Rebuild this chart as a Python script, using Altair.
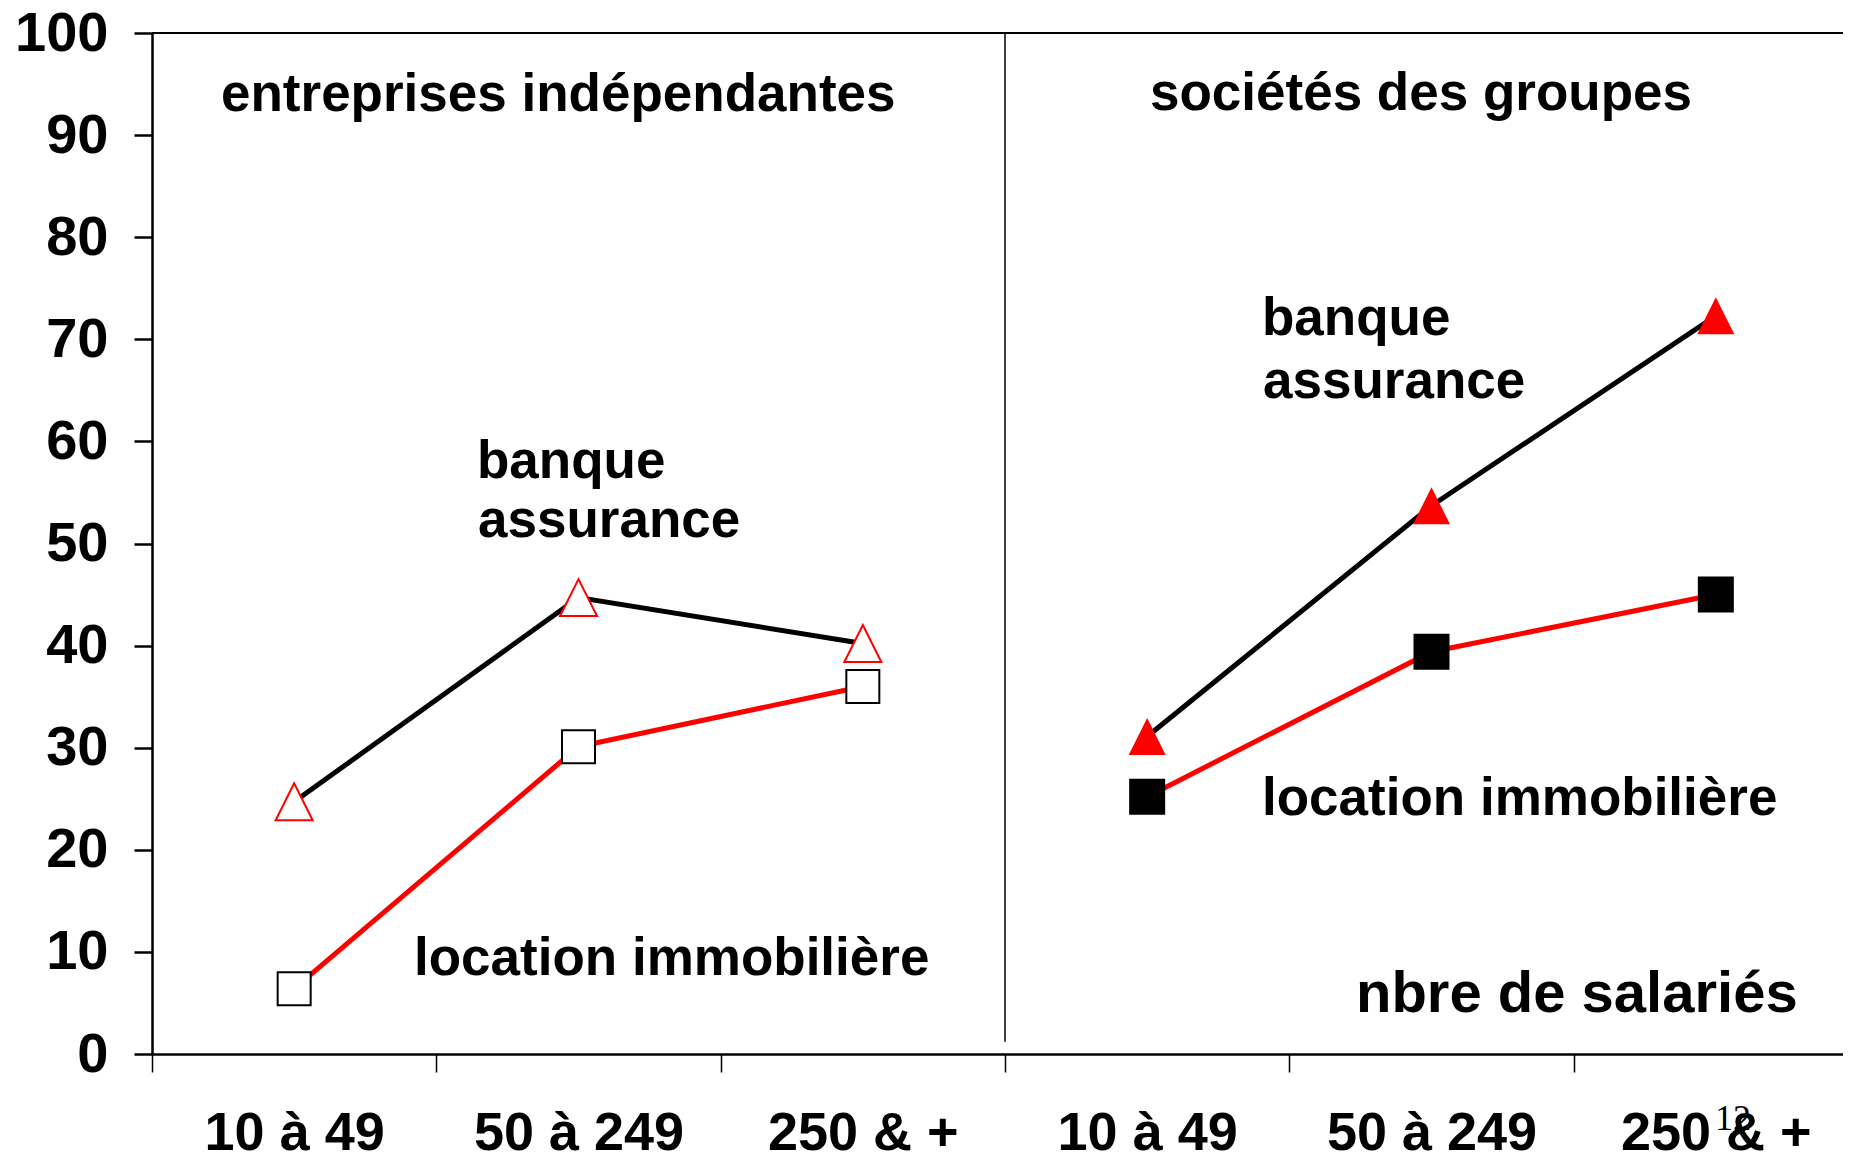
import altair as alt
import pandas as pd

# ---- data ----
size_keys = ["i1", "i2", "i3", "g1", "g2", "g3"]
size_labels = ["10 à 49", "50 à 249", "250 & +", "10 à 49", "50 à 249", "250 & +"]
panel = ["indep", "indep", "indep", "groupe", "groupe", "groupe"]
banque_assurance = [24.7, 44.7, 40.2, 31.1, 53.7, 72.3]
location_immobiliere = [6.4, 30.1, 36.0, 25.2, 39.4, 45.0]
y_ticks = [0, 10, 20, 30, 40, 50, 60, 70, 80, 90, 100]
divider_key = ["g1"]

rows = []
for k, p, b, l in zip(size_keys, panel, banque_assurance, location_immobiliere):
    rows.append({"key": k, "panel": p, "series": "banque", "value": b})
    rows.append({"key": k, "panel": p, "series": "location", "value": l})
df = pd.DataFrame(rows)

W = 1691
H = 1021
FULL_RANGE = 1706
FONT = "Liberation Sans"

label_expr = "{" + ",".join(f"'{k}':'{l}'" for k, l in zip(size_keys, size_labels)) + "}[datum.value]"

x_scale = alt.Scale(domain=size_keys, range=[0, FULL_RANGE], paddingInner=0, paddingOuter=0)
y_scale = alt.Scale(domain=[0, 100], nice=False, zero=True)

x_axis = alt.Axis(
    title=None, tickBand="extent", tickSize=18, tickWidth=1.5, tickColor="black",
    domainColor="black", domainWidth=2.5, labelFont=FONT, labelFontWeight="bold",
    labelFontSize=54, labelColor="black", labelPadding=77, labelBaseline="alphabetic",
    labelAngle=0, labelExpr=label_expr, labelLimit=0, labelOverlap=False, grid=False, zindex=1,
)
y_axis = alt.Axis(
    title=None, values=y_ticks, tickSize=18, tickWidth=2.5, tickColor="black",
    domainColor="black", domainWidth=2.5, labelFont=FONT, labelFontWeight="bold",
    labelFontSize=56, labelColor="black", labelPadding=26, labelOverlap=False,
    grid=False, zindex=1,
)

X = alt.X("key:N", sort=size_keys, scale=x_scale, axis=x_axis)
Y = alt.Y("value:Q", scale=y_scale, axis=y_axis)

base = alt.Chart(df)

lines = base.mark_line(strokeWidth=5).encode(
    x=X, y=Y,
    color=alt.Color("series:N", scale=alt.Scale(domain=["banque", "location"], range=["black", "#ff0000"]), legend=None),
    detail="panel:N",
)

TRI = "M0,-1L1,1L-1,1Z"

tri_open = base.transform_filter("datum.panel == 'indep' && datum.series == 'banque'").mark_point(
    shape=TRI, size=1369, filled=True, fill="white", stroke="#ff0000", strokeWidth=2, opacity=1
).encode(x=X, y=Y)
sq_open = base.transform_filter("datum.panel == 'indep' && datum.series == 'location'").mark_point(
    shape="square", size=1089, filled=True, fill="white", stroke="black", strokeWidth=2, opacity=1
).encode(x=X, y=Y)
tri_full = base.transform_filter("datum.panel == 'groupe' && datum.series == 'banque'").mark_point(
    shape=TRI, size=1369, filled=True, fill="#ff0000", strokeWidth=0, opacity=1
).encode(x=X, y=Y)
sq_full = base.transform_filter("datum.panel == 'groupe' && datum.series == 'location'").mark_point(
    shape="square", size=1296, filled=True, fill="black", strokeWidth=0, opacity=1
).encode(x=X, y=Y)

# frame: top line at 100 and the divider between the two groups
top_line = alt.Chart(pd.DataFrame({"value": [100]})).mark_rule(color="black", strokeWidth=2).encode(
    y=Y, x=alt.value(0), x2=alt.value(FULL_RANGE)
)
divider = alt.Chart(pd.DataFrame({"key": divider_key, "value": [100], "bottom": [1.2]})).mark_rule(
    color="black", strokeWidth=1.5
).encode(
    x=alt.X("key:N", sort=size_keys, scale=x_scale, axis=x_axis, bandPosition=0),
    y=Y, y2="bottom:Q",
)


def note(text, x, y, size=53, font=FONT, weight="bold"):
    return alt.Chart(alt.Data(values=[{"t": text}])).mark_text(
        align="left", baseline="alphabetic", font=font, fontWeight=weight,
        fontSize=size, color="black",
    ).encode(text="t:N", x=alt.value(x), y=alt.value(y))


notes = [
    note("entreprises indépendantes", 69, 78),
    note("sociétés des groupes", 998, 77),
    note("banque", 325, 445),
    note("assurance", 326, 504),
    note("location immobilière", 262, 942),
    note("banque", 1110, 302),
    note("assurance", 1111, 365),
    note("location immobilière", 1110, 782),
    note("nbre de salariés", 1204, 979, size=58),
    note("12", 1563, 1097, size=36, font="Liberation Serif", weight="normal"),
]

chart = alt.layer(
    lines, top_line, divider, tri_open, sq_open, tri_full, sq_full, *notes
).properties(
    width=W, height=H,
    padding={"left": 144, "top": 25, "right": 0, "bottom": 97},
    autosize=alt.AutoSizeParams(type="none"),
).configure_view(stroke=None).configure(background="white")

chart.save("out.html", embed_options={"renderer": "svg", "actions": False})
